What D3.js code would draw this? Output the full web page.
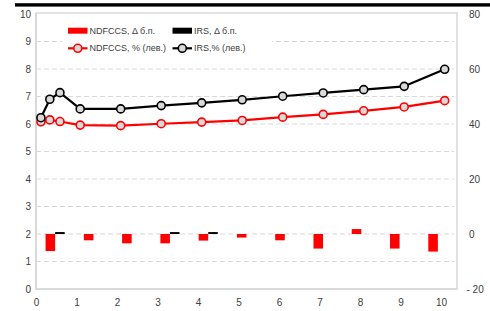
<!DOCTYPE html>
<html>
<head>
<meta charset="utf-8">
<script src="https://cdn.jsdelivr.net/npm/d3@7"></script>
<style>
  body { margin: 0; background: #fff; }
  text { font-family: "Liberation Sans", Arial, sans-serif; fill: #404040; }
</style>
</head>
<body>
<div id="chart"></div>
<script>
// line series (left axis, %)
const tenors = [0.03, 0.25, 0.5, 1, 2, 3, 4, 5, 6, 7, 8, 9, 10];
const ndfccsRate = [6.08, 6.15, 6.09, 5.96, 5.94, 6.01, 6.07, 6.13, 6.25, 6.35, 6.48, 6.62, 6.85];
const irsRate = [6.23, 6.90, 7.14, 6.55, 6.55, 6.67, 6.77, 6.88, 7.01, 7.13, 7.25, 7.37, 7.99];

// bar series (right axis, b.p. change)
const barTenors = ["3M", "1Y", "2Y", "3Y", "4Y", "5Y", "6Y", "7Y", "8Y", "9Y", "10Y"];
const ndfccsDelta = [-6.2, -2.3, -3.4, -3.4, -2.4, -1.3, -2.3, -5.3, 1.8, -5.3, -6.4];
const irsDelta = [0.7, 0, 0, 0.7, 0.7, 0, 0, 0, 0, 0, 0];

const xTicks = [0, 1, 2, 3, 4, 5, 6, 7, 8, 9, 10];
const leftTicks = [0, 1, 2, 3, 4, 5, 6, 7, 8, 9, 10];
const rightTicks = [-20, 0, 20, 40, 60, 80];

const width = 490, height = 311;
const plot = { left: 36, right: 457, top: 13, bottom: 289 };

const svg = d3.select("#chart").append("svg")
  .attr("width", width)
  .attr("height", height);

// thick rule at the top
svg.append("rect")
  .attr("x", 15).attr("y", 3.2)
  .attr("width", width - 15).attr("height", 3.4)
  .attr("fill", "#000");

const x = d3.scaleLinear().domain([0, 10]).range([39.7, 444.7]);
const yLeft = d3.scaleLinear().domain([0, 10]).range([plot.bottom, 14]);
const yRight = d3.scaleLinear().domain([-20, 80]).range([plot.bottom, 14]);

const xBand = d3.scaleBand().domain(barTenors).range([plot.left, plot.right]);
const xSub = d3.scaleBand().domain(["ndfccs", "irs"])
  .range([xBand.bandwidth() * 0.25, xBand.bandwidth() * 0.75]);

// gridlines
svg.append("g")
  .selectAll("line")
  .data(leftTicks.filter(d => d > 0 && d < 10))
  .join("line")
  .attr("x1", plot.left).attr("x2", plot.right - 3)
  .attr("y1", d => yLeft(d)).attr("y2", d => yLeft(d))
  .attr("stroke", "#d9d9d9")
  .attr("stroke-width", 1.2)
  .attr("stroke-dasharray", "5,3");

// plot border
svg.append("rect")
  .attr("x", plot.left).attr("y", plot.top)
  .attr("width", plot.right - plot.left).attr("height", plot.bottom - plot.top)
  .attr("fill", "none")
  .attr("stroke", "#d9d9d9")
  .attr("stroke-width", 1.5);
svg.append("path")
  .attr("d", `M${plot.left},${plot.top}V${plot.bottom}H${plot.right}`)
  .attr("fill", "none")
  .attr("stroke", "#d9d9d9")
  .attr("stroke-width", 2);

// bars
const bars = svg.append("g");
const barData = [];
barTenors.forEach((t, i) => {
  barData.push({ t, key: "ndfccs", v: ndfccsDelta[i], color: "#ff0000" });
  barData.push({ t, key: "irs", v: irsDelta[i], color: "#000000" });
});
bars.selectAll("rect")
  .data(barData)
  .join("rect")
  .attr("x", d => xBand(d.t) + xSub(d.key))
  .attr("width", xSub.bandwidth())
  .attr("y", d => Math.min(yRight(d.v), yRight(0)))
  .attr("height", d => Math.abs(yRight(d.v) - yRight(0)))
  .attr("fill", d => d.color);

// lines
function drawSeries(values, color) {
  const pts = tenors.map((t, i) => [t, values[i]]);
  svg.append("path")
    .datum(pts)
    .attr("fill", "none")
    .attr("stroke", color)
    .attr("stroke-width", 2.2)
    .attr("stroke-linejoin", "round")
    .attr("d", d3.line().x(d => x(d[0])).y(d => yLeft(d[1])));
  svg.append("g")
    .selectAll("circle")
    .data(pts)
    .join("circle")
    .attr("cx", d => x(d[0]))
    .attr("cy", d => yLeft(d[1]))
    .attr("r", 4)
    .attr("fill", "#d9d9d9")
    .attr("stroke", color)
    .attr("stroke-width", 1.6);
}
drawSeries(ndfccsRate, "#ff0000");
drawSeries(irsRate, "#000000");

// axes
const xAxis = svg.append("g")
  .attr("transform", `translate(-3.7, ${plot.bottom})`)
  .call(d3.axisBottom(x).tickValues(xTicks).tickFormat(d3.format("d")).tickSize(0).tickPadding(10));
const leftAxis = svg.append("g")
  .attr("transform", `translate(${plot.left - 5}, 0)`)
  .call(d3.axisLeft(yLeft).tickValues(leftTicks).tickSize(0).tickPadding(0));
const rightAxis = svg.append("g")
  .attr("transform", `translate(469, 0)`)
  .call(d3.axisRight(yRight).tickValues(rightTicks).tickSize(0).tickPadding(0)
    .tickFormat(d => d < 0 ? "- " + Math.abs(d) : d));
[xAxis, leftAxis, rightAxis].forEach(a => {
  a.select(".domain").remove();
  a.selectAll("text").style("font-size", "10px").attr("fill", "#404040")
    .style("font-family", "'Liberation Sans', Arial, sans-serif");
});
rightAxis.selectAll("text").filter(d => d < 0).attr("x", -2.5);

// legend
const legend = svg.append("g");
legend.append("rect")
  .attr("x", 62).attr("y", 20).attr("width", 210).attr("height", 36)
  .attr("fill", "#fff");
const legendItems = [
  { label: "NDFCCS, Δ б.п.", color: "#ff0000", type: "bar", x: 68, y: 30.7 },
  { label: "IRS, Δ б.п.", color: "#000000", type: "bar", x: 172.5, y: 30.7 },
  { label: "NDFCCS, % (лев.)", color: "#ff0000", type: "line", x: 68, y: 48.3 },
  { label: "IRS,% (лев.)", color: "#000000", type: "line", x: 172.5, y: 48.3 }
];
legendItems.forEach(d => {
  if (d.type === "bar") {
    legend.append("rect")
      .attr("x", d.x).attr("y", d.y - 3).attr("width", 19.5).attr("height", 6)
      .attr("fill", d.color);
  } else {
    legend.append("line")
      .attr("x1", d.x).attr("x2", d.x + 19.5)
      .attr("y1", d.y).attr("y2", d.y)
      .attr("stroke", d.color).attr("stroke-width", 2.2);
    legend.append("circle")
      .attr("cx", d.x + 9.8).attr("cy", d.y).attr("r", 4)
      .attr("fill", "#d9d9d9").attr("stroke", d.color).attr("stroke-width", 1.6);
  }
  legend.append("text")
    .attr("x", d.x + 21.5).attr("y", d.y)
    .attr("dy", "0.35em")
    .style("font-size", "9px")
    .text(d.label);
});
</script>
</body>
</html>
